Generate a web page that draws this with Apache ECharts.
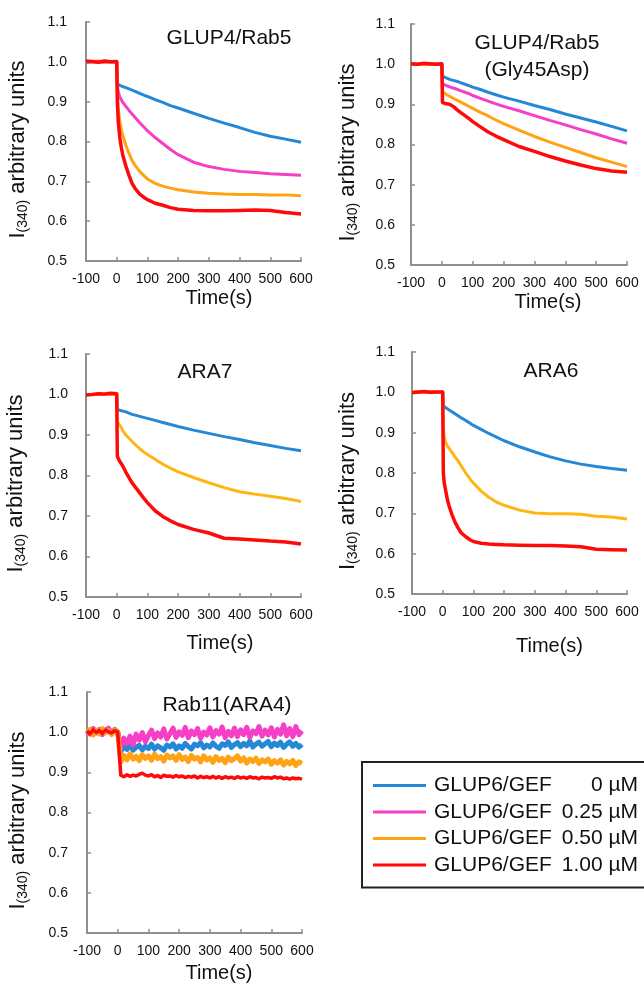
<!DOCTYPE html>
<html>
<head>
<meta charset="utf-8">
<script src="https://cdn.jsdelivr.net/npm/echarts@6/dist/echarts.min.js"></script>
<style>
html,body{margin:0;padding:0;background:#fff;}
#chart{width:644px;height:984px;}
</style>
</head>
<body>
<div id="chart"></div>
<script>
// ---------------- DATA ----------------
const seriesNames = ['GLUP6/GEF 0 µM', 'GLUP6/GEF 0.25 µM', 'GLUP6/GEF 0.50 µM', 'GLUP6/GEF 1.00 µM'];
const panelTitles = ['GLUP4/Rab5', 'GLUP4/Rab5\n(Gly45Asp)', 'ARA7', 'ARA6', 'Rab11(ARA4)'];
const xTicks = [-100, 0, 100, 200, 300, 400, 500, 600];
const yTicks = [0.5, 0.6, 0.7, 0.8, 0.9, 1.0, 1.1];

const smoothTime = [-100,-80,-60,-40,-20,0,2,5,10,15,20,30,40,50,60,75,90,100,125,150,175,200,250,300,350,400,450,500,550,600];

// Panel 1: GLUP4/Rab5
const p1Blue    = [0.998,1.000,1.001,0.999,1.000,1.000, 0.945,0.943,0.941,0.940,0.938,0.935,0.932,0.929,0.926,0.921,0.916,0.913,0.905,0.898,0.890,0.884,0.871,0.858,0.846,0.835,0.823,0.813,0.806,0.798];
const p1Magenta = [1.000,1.001,0.999,1.000,1.001,1.000, 0.940,0.925,0.912,0.905,0.898,0.888,0.878,0.869,0.860,0.847,0.835,0.827,0.810,0.795,0.780,0.767,0.748,0.737,0.730,0.725,0.722,0.719,0.717,0.715];
const p1Orange  = [1.001,1.000,1.002,0.999,1.001,1.000, 0.930,0.880,0.850,0.830,0.815,0.790,0.770,0.752,0.740,0.725,0.713,0.706,0.695,0.688,0.683,0.679,0.673,0.670,0.668,0.667,0.667,0.666,0.666,0.664];
const p1Red     = [1.002,1.001,0.999,1.002,1.000,1.001, 0.900,0.850,0.810,0.785,0.765,0.738,0.715,0.695,0.682,0.668,0.659,0.654,0.645,0.640,0.634,0.630,0.627,0.626,0.626,0.627,0.628,0.627,0.622,0.618];

// Panel 2: GLUP4/Rab5 (Gly45Asp)
const p2Blue    = [1.000,1.000,1.000,1.000,1.000,1.000, 0.970,0.968,0.967,0.965,0.964,0.961,0.959,0.957,0.954,0.950,0.946,0.943,0.937,0.930,0.924,0.918,0.908,0.897,0.887,0.876,0.866,0.856,0.845,0.834];
const p2Magenta = [1.000,1.000,1.000,1.000,1.000,1.000, 0.952,0.950,0.948,0.947,0.945,0.942,0.940,0.937,0.934,0.930,0.926,0.922,0.915,0.908,0.901,0.895,0.884,0.872,0.860,0.849,0.837,0.826,0.814,0.803];
const p2Orange  = [1.000,1.000,1.000,1.000,1.000,1.000, 0.932,0.930,0.927,0.925,0.922,0.918,0.914,0.910,0.906,0.900,0.894,0.890,0.880,0.871,0.861,0.852,0.836,0.820,0.806,0.793,0.780,0.767,0.756,0.745];
const p2Red     = [1.001,1.000,1.002,1.001,1.000,1.001, 0.905,0.903,0.902,0.900,0.901,0.898,0.893,0.886,0.880,0.872,0.863,0.857,0.844,0.831,0.821,0.812,0.795,0.783,0.770,0.759,0.749,0.740,0.734,0.731];

// Panel 3: ARA7
const p3Blue    = [1.000,1.000,1.000,1.000,1.000,1.000, 0.963,0.962,0.961,0.960,0.959,0.957,0.954,0.951,0.949,0.946,0.943,0.941,0.936,0.931,0.926,0.921,0.912,0.904,0.896,0.889,0.881,0.874,0.867,0.861];
const p3Orange  = [1.000,1.000,1.000,1.000,1.000,1.000, 0.933,0.930,0.924,0.918,0.910,0.900,0.892,0.884,0.877,0.866,0.857,0.852,0.840,0.828,0.818,0.809,0.795,0.782,0.770,0.760,0.754,0.749,0.743,0.736];
const p3Red     = [0.999,1.000,1.002,1.001,1.003,1.002, 0.848,0.842,0.835,0.829,0.823,0.808,0.795,0.782,0.772,0.757,0.742,0.733,0.713,0.699,0.688,0.679,0.667,0.658,0.645,0.643,0.641,0.638,0.636,0.631];

// Panel 4: ARA6
const p4Blue    = [1.000,1.000,1.000,1.000,1.000,1.000, 0.967,0.965,0.962,0.960,0.957,0.952,0.947,0.942,0.937,0.930,0.923,0.918,0.908,0.898,0.889,0.880,0.865,0.852,0.840,0.830,0.822,0.816,0.811,0.807];
const p4Orange  = [1.002,1.001,1.000,1.002,1.001,1.000, 0.910,0.890,0.875,0.867,0.862,0.851,0.840,0.830,0.818,0.800,0.784,0.775,0.755,0.740,0.728,0.720,0.708,0.701,0.699,0.699,0.698,0.693,0.691,0.686];
const p4Red     = [0.999,1.001,1.002,1.000,1.001,1.001, 0.800,0.775,0.755,0.735,0.720,0.697,0.678,0.664,0.652,0.642,0.634,0.630,0.626,0.624,0.623,0.622,0.621,0.620,0.620,0.619,0.617,0.611,0.610,0.609];

// Panel 5: Rab11(ARA4)
const rab11Time = [-100,-90,-80,-70,-60,-50,-40,-30,-20,-10,0,
  10,20,30,40,50,60,70,80,90,100,110,120,130,140,150,160,170,180,190,200,
  210,220,230,240,250,260,270,280,290,300,310,320,330,340,350,360,370,380,390,400,
  410,420,430,440,450,460,470,480,490,500,510,520,530,540,550,560,570,580,590,600];
const p5Blue = [1.004,0.997,1.008,0.999,1.006,0.996,1.005,1.001,0.998,1.007,1.000,
  0.952,0.964,0.957,0.969,0.955,0.962,0.967,0.956,0.965,0.959,
  0.970,0.958,0.966,0.961,0.955,0.968,0.963,0.971,0.958,0.966,
  0.960,0.972,0.964,0.958,0.970,0.966,0.974,0.961,0.968,0.963,
  0.973,0.965,0.960,0.971,0.967,0.976,0.962,0.969,0.974,0.964,
  0.972,0.966,0.978,0.963,0.970,0.975,0.965,0.971,0.977,0.964,
  0.973,0.967,0.975,0.962,0.970,0.976,0.965,0.972,0.963,0.969];
const p5Magenta = [1.002,0.995,1.009,0.998,1.006,0.994,1.004,1.010,0.997,1.003,1.000,
  0.962,0.985,0.972,0.990,0.968,0.995,0.980,0.999,0.976,0.992,
  1.005,0.984,0.998,0.988,1.008,0.983,0.996,1.010,0.987,1.001,
  0.992,1.012,0.986,1.003,0.994,1.009,0.985,1.000,0.993,1.011,
  0.988,1.004,0.995,1.013,0.986,1.002,0.991,1.010,0.989,1.006,
  0.994,1.012,0.987,1.003,0.996,1.014,0.990,1.005,0.993,1.011,
  0.988,1.007,0.995,1.018,0.991,1.009,0.989,1.014,0.994,1.003];
const p5Orange = [0.998,1.007,0.993,1.005,0.996,1.009,0.999,1.004,0.994,1.006,1.000,
  0.925,0.942,0.931,0.946,0.933,0.940,0.929,0.944,0.935,0.941,
  0.930,0.945,0.934,0.939,0.928,0.943,0.936,0.941,0.930,0.944,
  0.932,0.938,0.927,0.942,0.933,0.937,0.926,0.941,0.931,0.936,
  0.925,0.939,0.930,0.935,0.924,0.938,0.929,0.934,0.941,0.928,
  0.936,0.923,0.933,0.927,0.935,0.922,0.931,0.926,0.933,0.920,
  0.929,0.923,0.931,0.918,0.927,0.921,0.930,0.917,0.926,0.922];
const p5Red = [1.003,0.996,1.006,0.999,1.004,0.997,1.005,1.001,0.998,1.004,1.000,
  0.893,0.889,0.894,0.890,0.893,0.891,0.895,0.898,0.893,0.891,
  0.894,0.889,0.892,0.887,0.893,0.890,0.891,0.888,0.892,0.889,
  0.891,0.887,0.890,0.888,0.891,0.886,0.890,0.887,0.889,0.886,
  0.890,0.886,0.889,0.885,0.889,0.886,0.888,0.885,0.889,0.886,
  0.888,0.885,0.889,0.886,0.887,0.884,0.888,0.886,0.887,0.885,
  0.889,0.886,0.888,0.884,0.886,0.883,0.886,0.884,0.885,0.883];

// ---------------- STYLE / LAYOUT ----------------
const FONT = '"Liberation Sans", Arial, Helvetica, sans-serif';
const C = { blue: '#2588d6', magenta: '#f43fc6', orange: '#ffa214', yellow: '#ffb612', red: '#ff0a0a' };
const AXIS_COLOR = '#8f8f8f';

const grids = [
  { left: 86,  top: 22,  width: 215, height: 239 },
  { left: 411, top: 24,  width: 216, height: 241 },
  { left: 86,  top: 354, width: 215, height: 243 },
  { left: 412, top: 352, width: 215, height: 242 },
  { left: 87,  top: 692, width: 215, height: 242 }
];
const xNameGap = [27, 27, 36, 42, 30];
const xNameShift = [51, 58, 53, 60, 49];
const yNameGap = [56, 51, 58, 52, 57];
const yLabelMargin = [19, 16, 18, 17, 19];

function xAxisFor(i) {
  return {
    gridIndex: i, type: 'value', min: xTicks[0], max: xTicks[xTicks.length - 1], interval: 100,
    axisLine: { show: true, onZero: false, lineStyle: { color: AXIS_COLOR, width: 2 } },
    axisTick: { show: true, inside: true, length: 4, lineStyle: { color: AXIS_COLOR, width: 1.5 } },
    axisLabel: { color: '#111', fontSize: 14, fontFamily: FONT, margin: 11 },
    splitLine: { show: false },
    name: 'Time(s)', nameLocation: 'middle', nameGap: xNameGap[i],
    nameTextStyle: { color: '#111', fontSize: 20, fontFamily: FONT, padding: [0, 0, 0, xNameShift[i]] }
  };
}
function yAxisFor(i) {
  return {
    gridIndex: i, type: 'value', min: yTicks[0], max: yTicks[yTicks.length - 1], interval: 0.1,
    axisLine: { show: true, onZero: false, lineStyle: { color: AXIS_COLOR, width: 2 } },
    axisTick: { show: true, inside: true, length: 4, lineStyle: { color: AXIS_COLOR, width: 1.5 } },
    axisLabel: { color: '#111', fontSize: 14, fontFamily: FONT, margin: yLabelMargin[i], formatter: v => v.toFixed(1) },
    splitLine: { show: false },
    name: '{i|I}{s|(340)}{t| arbitrary units}',
    nameLocation: 'middle', nameRotate: 90, nameGap: yNameGap[i],
    nameTextStyle: {
      color: '#111', fontFamily: FONT, padding: [0, 16, 0, 0],
      rich: {
        i: { fontSize: 22, fontFamily: FONT, color: '#111', lineHeight: 24 },
        s: { fontSize: 14, fontFamily: FONT, color: '#111', lineHeight: 24, verticalAlign: 'bottom', padding: [5, 0, 0, 0] },
        t: { fontSize: 22, fontFamily: FONT, color: '#111', lineHeight: 24 }
      }
    }
  };
}
function line(nameIdx, gi, time, vals, color, width) {
  return {
    type: 'line', name: seriesNames[nameIdx], xAxisIndex: gi, yAxisIndex: gi,
    data: time.map((t, k) => [t, vals[k]]),
    symbol: 'none', showSymbol: false, smooth: false,
    lineStyle: { color: color, width: width, join: 'round' },
    itemStyle: { color: color },
    emphasis: { disabled: true }
  };
}

const series = [
  line(0, 0, smoothTime, p1Blue, C.blue, 3),
  line(1, 0, smoothTime, p1Magenta, C.magenta, 3),
  line(2, 0, smoothTime, p1Orange, C.orange, 3),
  line(3, 0, smoothTime, p1Red, C.red, 3.5),

  line(0, 1, smoothTime, p2Blue, C.blue, 3),
  line(1, 1, smoothTime, p2Magenta, C.magenta, 3),
  line(2, 1, smoothTime, p2Orange, C.orange, 3),
  line(3, 1, smoothTime, p2Red, C.red, 3.5),

  line(0, 2, smoothTime, p3Blue, C.blue, 3),
  line(2, 2, smoothTime, p3Orange, C.yellow, 3),
  line(3, 2, smoothTime, p3Red, C.red, 3.5),

  line(0, 3, smoothTime, p4Blue, C.blue, 3),
  line(2, 3, smoothTime, p4Orange, C.yellow, 3),
  line(3, 3, smoothTime, p4Red, C.red, 3.5),

  line(0, 4, rab11Time, p5Blue, C.blue, 5),
  line(1, 4, rab11Time, p5Magenta, C.magenta, 5),
  line(2, 4, rab11Time, p5Orange, C.orange, 5),
  line(3, 4, rab11Time, p5Red, C.red, 3.5)
];

function titleText(text, x, y) {
  return { type: 'text', x: x, y: y, silent: true,
    style: { text: text, fontSize: 21, fontFamily: FONT, fill: '#111',
      align: 'center', verticalAlign: 'middle', textAlign: 'center', textVerticalAlign: 'middle' } };
}

const option = {
  animation: false,
  backgroundColor: '#ffffff',
  textStyle: { fontFamily: FONT },
  grid: grids,
  xAxis: grids.map((g, i) => xAxisFor(i)),
  yAxis: grids.map((g, i) => yAxisFor(i)),
  legend: {
    data: seriesNames,
    orient: 'vertical',
    left: 362, top: 762,
    padding: [13, 24, 12, 11],
    itemGap: 5.5,
    itemWidth: 53, itemHeight: 3,
    icon: 'rect',
    selectedMode: false,
    borderColor: '#222', borderWidth: 2,
    formatter: function (name) {
      const parts = name.split(' ');
      return '{a|' + parts[0] + '}{b|' + parts.slice(1).join(' ') + '}';
    },
    textStyle: {
      color: '#111', fontSize: 21, fontFamily: FONT, lineHeight: 21,
      rich: {
        a: { fontSize: 21, fontFamily: FONT, color: '#111', width: 126, padding: [0, 0, 0, 3], lineHeight: 21 },
        b: { fontSize: 21, fontFamily: FONT, color: '#111', width: 78, align: 'right', lineHeight: 21 }
      }
    }
  },
  graphic: [
    titleText(panelTitles[0], 229, 38),
    titleText('GLUP4/Rab5', 537, 43),
    titleText('(Gly45Asp)', 537, 70),
    titleText(panelTitles[2], 205, 372),
    titleText(panelTitles[3], 551, 371),
    titleText(panelTitles[4], 227, 705)
  ],
  series: series
};

const chart = echarts.init(document.getElementById('chart'), null, { renderer: 'canvas' });
chart.setOption(option);
</script>
</body>
</html>
